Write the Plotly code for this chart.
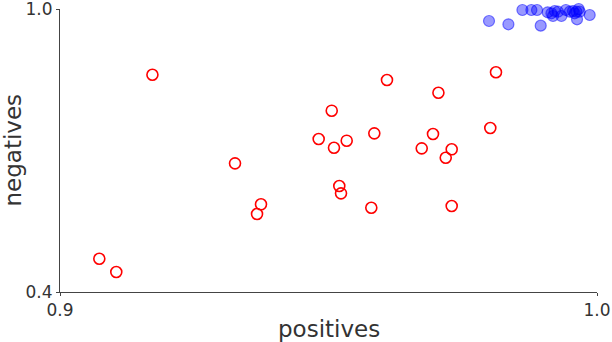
import plotly.graph_objects as go

# Red (open) points
red_x = [0.91721, 0.93259, 0.93743, 0.93669, 0.90732, 0.91048, 0.96089, 0.97047,
         0.98119, 0.95060, 0.94817, 0.95102, 0.95339, 0.95853, 0.96946, 0.96736,
         0.97294, 0.97183, 0.98013, 0.95201, 0.95233, 0.95797, 0.97294]
red_y = [0.8607, 0.6728, 0.5859, 0.5654, 0.4706, 0.4424, 0.8494, 0.8225,
         0.8658, 0.7844, 0.7244, 0.7059, 0.7208, 0.7364, 0.7350, 0.7046,
         0.7025, 0.6847, 0.7477, 0.6247, 0.6092, 0.5787, 0.5823]

# Blue (filled, translucent) points
blue_x = [0.97989, 0.98350, 0.98611, 0.98778, 0.98883, 0.98952, 0.99151, 0.99212,
          0.99181, 0.99274, 0.99337, 0.99492, 0.99553, 0.99616, 0.99678, 0.99585,
          0.99628, 0.99864, 0.99082, 0.99420, 0.99659]
blue_y = [0.9746, 0.9676, 0.9979, 0.9979, 0.9979, 0.9647, 0.9909, 0.9958,
          0.9852, 0.9943, 0.9852, 0.9943, 0.9958, 0.9943, 0.9943, 0.9909,
          0.9782, 0.9873, 0.9930, 0.9979, 1.0000]

x_ticks = [0.9, 1.0]
y_ticks = [0.4, 1.0]
x_ticklabels = ["0.9", "1.0"]
y_ticklabels = ["0.4", "1.0"]
x_title = "positives"
y_title = "negatives"

fig = go.Figure()
fig.add_trace(go.Scatter(
    x=red_x, y=red_y, mode="markers", cliponaxis=False,
    marker=dict(symbol="circle-open", size=11, color="red",
                line=dict(width=1.6, color="red")),
    showlegend=False,
))
fig.add_trace(go.Scatter(
    x=blue_x, y=blue_y, mode="markers", cliponaxis=False,
    marker=dict(symbol="circle", size=11, color="rgba(0,0,255,0.4)",
                line=dict(width=1.2, color="rgba(0,0,255,0.5)")),
    showlegend=False,
))

axis_common = dict(
    showgrid=False, zeroline=False, showline=True, linecolor="#444", linewidth=1,
    ticks="outside", ticklen=3, tickcolor="#444", automargin=False,
    ticklabeloverflow="allow",
    tickfont=dict(family="DejaVu Sans", size=17, color="#333"),
)
fig.update_xaxes(range=[0.9, 1.0], tickvals=x_ticks, ticktext=x_ticklabels, **axis_common)
fig.update_yaxes(range=[0.4, 1.0], tickvals=y_ticks, ticktext=y_ticklabels, **axis_common)

title_font = dict(family="DejaVu Sans", size=23, color="#333")
fig.add_annotation(text=x_title, xref="paper", yref="paper", x=0.5, y=0,
                   xanchor="center", yanchor="middle", yshift=-37,
                   showarrow=False, font=title_font)
fig.add_annotation(text=y_title, xref="paper", yref="paper", x=0, y=0.5,
                   xanchor="center", yanchor="middle", xshift=-48, textangle=-90,
                   showarrow=False, font=title_font)

fig.update_layout(
    width=612, height=342,
    margin=dict(l=60, r=15, t=9, b=50),
    paper_bgcolor="white", plot_bgcolor="white",
)
fig.write_html("out.html", config={"displayModeBar": False},
               post_script="document.body.style.margin='0';document.body.style.overflow='hidden';")
